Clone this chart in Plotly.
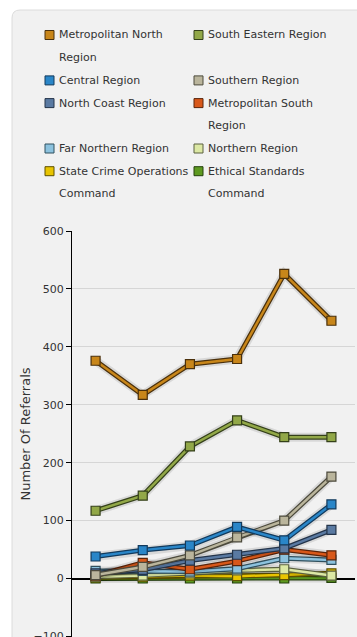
import plotly.graph_objects as go

# Reporting periods (x categories)
periods = ["2003/04", "2004/05", "2005/06", "2006/07", "2007/08", "2008/09"]

# Referrals per region / command
met_north = [376, 317, 370, 379, 526, 445]
south_eastern = [117, 143, 228, 273, 244, 244]
central = [38, 49, 57, 89, 66, 128]
southern = [6, 20, 40, 71, 100, 176]
north_coast = [9, 15, 31, 41, 52, 84]
met_south = [5, 27, 16, 30, 50, 40]
far_northern = [13, 13, 12, 17, 35, 32]
northern = [3, 5, 9, 14, 16, 5]
state_crime = [2, 3, 5, 4, 6, 9]
ethical = [0, 0, 0, 0, 0, 1]

# Legend order (row by row, two columns); "\n" marks a wrapped label
series_names = [
    "Metropolitan North\nRegion", "South Eastern Region",
    "Central Region", "Southern Region",
    "North Coast Region", "Metropolitan South\nRegion",
    "Far Northern Region", "Northern Region",
    "State Crime Operations\nCommand", "Ethical Standards\nCommand",
]
series_values = [
    met_north, south_eastern,
    central, southern,
    north_coast, met_south,
    far_northern, northern,
    state_crime, ethical,
]
series_colors = [
    "#c8861a", "#92a848",
    "#2a86c8", "#bab59c",
    "#5a7aa2", "#d8581a",
    "#8cc2de", "#dce8a4",
    "#e8c400", "#5e9a20",
]
series_edges = [
    "#4a300c", "#34401a",
    "#123a5c", "#4c4a3c",
    "#24344a", "#5a240a",
    "#30505e", "#5a6040",
    "#5e5000", "#24400c",
]

W, H = 357, 637
ML, MR, MT, MB = 72, 2, 231, 0
PW, PH = W - ML - MR, H - MT - MB


def px_x(px):
    return (px - ML) / PW


def px_y(py):
    return (H - MB - py) / PH


fig = go.Figure()

# draw the biggest series last so it sits on top
for name, vals, col, edge in reversed(list(zip(series_names, series_values,
                                               series_colors, series_edges))):
    label = name.replace("\n", " ")
    fig.add_trace(go.Scatter(
        x=periods, y=vals, mode="lines", showlegend=False, hoverinfo="skip",
        line=dict(color="rgba(0,0,0,0.10)", width=9),
    ))
    fig.add_trace(go.Scatter(
        x=periods, y=vals, mode="lines", showlegend=False, hoverinfo="skip",
        line=dict(color=edge, width=5),
    ))
    fig.add_trace(go.Scatter(
        x=periods, y=vals, mode="lines+markers", name=label, showlegend=False,
        line=dict(color=col, width=2.5),
        marker=dict(symbol="square", size=9, color=col,
                    line=dict(color=edge, width=1.2)),
    ))

shapes = []
annotations = []

# panel background with a rounded top-left corner
r = 8
x0, y0 = 12, 10
x1, y1 = W + 5, H + 5
path = (f"M {px_x(x0)},{px_y(y1)} L {px_x(x0)},{px_y(y0 + r)} "
        f"Q {px_x(x0)},{px_y(y0)} {px_x(x0 + r)},{px_y(y0)} "
        f"L {px_x(x1)},{px_y(y0)} L {px_x(x1)},{px_y(y1)} Z")
shapes.append(dict(type="path", xref="paper", yref="paper", path=path,
                   fillcolor="#f1f1f1", line=dict(color="#dcdcdc", width=1),
                   layer="below"))

# two-column legend laid out on a fixed line grid
col_swatch = [49.5, 198.5]
col_text = [57, 206]
line0, line_h = 35, 22.7
sw = 9
line_idx = 0
for row in range(0, len(series_names), 2):
    row_lines = 1
    for c in range(2):
        i = row + c
        if i >= len(series_names):
            break
        parts = series_names[i].split("\n")
        row_lines = max(row_lines, len(parts))
        cy = line0 + line_h * line_idx
        shapes.append(dict(
            type="rect", xref="paper", yref="paper",
            x0=px_x(col_swatch[c] - sw / 2), x1=px_x(col_swatch[c] + sw / 2),
            y0=px_y(cy - sw / 2), y1=px_y(cy + sw / 2),
            fillcolor=series_colors[i], line=dict(color=series_edges[i], width=1),
        ))
        for k, part in enumerate(parts):
            annotations.append(dict(
                xref="paper", yref="paper", x=px_x(col_text[c]),
                y=px_y(cy + line_h * k), text=part, showarrow=False,
                xanchor="left", yanchor="middle",
                font=dict(family="DejaVu Sans", size=11, color="#333333"),
            ))
    line_idx += row_lines

fig.update_layout(
    width=W, height=H,
    margin=dict(l=ML, r=MR, t=MT, b=MB, pad=0, autoexpand=False),
    paper_bgcolor="white",
    plot_bgcolor="rgba(0,0,0,0)",
    showlegend=False,
    shapes=shapes,
    annotations=annotations,
    xaxis=dict(
        type="category", range=[-0.5, 5.5], showgrid=False, showline=False,
        zeroline=False, ticks="", fixedrange=True, automargin=False,
        showticklabels=False,
    ),
    yaxis=dict(
        range=[-101, 600], dtick=100, showgrid=True, gridcolor="#d6d6d6",
        gridwidth=1, showline=True, linecolor="black", linewidth=1,
        ticks="outside", ticklen=5, tickcolor="black",
        zeroline=True, zerolinecolor="black", zerolinewidth=1.5,
        ticklabeloverflow="allow",
        tickfont=dict(family="DejaVu Sans", size=11, color="#333333"),
        title=dict(text="Number Of Referrals", standoff=0,
                   font=dict(family="DejaVu Sans", size=13, color="#333333")),
        automargin=False,
    ),
)

fig.write_html("out.html")
